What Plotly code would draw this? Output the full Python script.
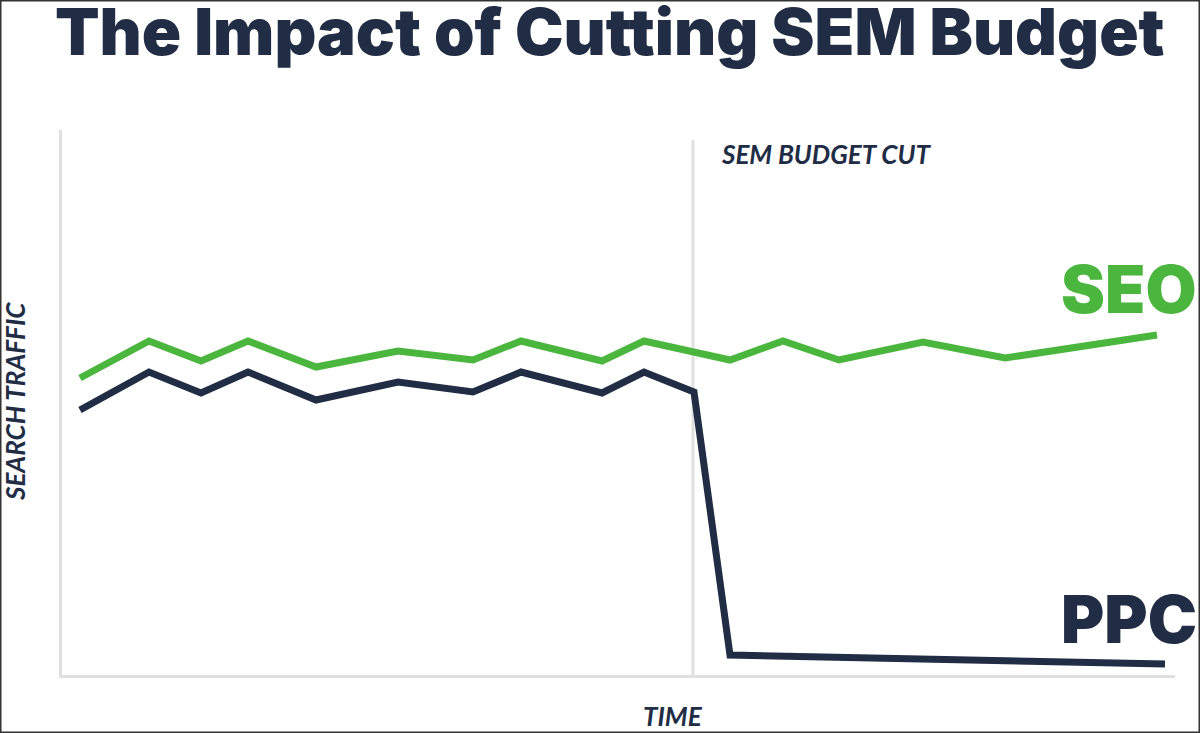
import plotly.graph_objects as go

# time axis in arbitrary units, traffic in arbitrary units
seo_time = [1.8, 8.7, 13.9, 18.6, 25.4, 33.6, 41.1, 45.9, 54.0, 58.2,
            66.8, 72.1, 77.7, 86.1, 94.3, 109.5]
seo_traffic = [29.7, 33.4, 31.4, 33.4, 30.8, 32.4, 31.5, 33.4, 31.4, 33.4,
               31.5, 33.4, 31.5, 33.3, 31.7, 34.0]

ppc_time = [1.8, 8.7, 13.9, 18.6, 25.4, 33.6, 41.1, 45.9, 54.0, 58.2,
            63.2, 66.8, 110.3]
ppc_traffic = [26.5, 30.3, 28.2, 30.3, 27.5, 29.3, 28.3, 30.3, 28.2, 30.3,
               28.3, 2.0, 1.1]

budget_cut = 63.1

navy = '#212c45'
green = '#4ab63d'
grid = '#e0e0e0'

W, H = 1200, 733

fig = go.Figure()

fig.add_trace(go.Scatter(x=seo_time, y=seo_traffic, mode='lines', name='SEO',
                         line=dict(color=green, width=7), cliponaxis=False))
fig.add_trace(go.Scatter(x=ppc_time, y=ppc_traffic, mode='lines', name='PPC',
                         line=dict(color=navy, width=7), cliponaxis=False))

# vertical marker for the budget cut
fig.add_shape(type='line', xref='x', yref='y', x0=budget_cut, x1=budget_cut,
              y0=-0.5, y1=53.5, line=dict(color=grid, width=3), layer='below')

# thin border round the picture
fig.add_shape(type='rect', xref='paper', yref='paper', x0=0, y0=0, x1=1, y1=1,
              line=dict(color='#333333', width=3))

heavy = 'Inter'
title_font = dict(family=heavy, size=65, color=navy, weight=900)
fig.add_annotation(text='The Impact of Cutting SEM Budget', xref='paper', yref='paper',
                   x=610 / W, y=1 - 31 / H, xanchor='center', yanchor='middle',
                   showarrow=False, font=title_font)

big_font = dict(family=heavy, size=66, color=green, weight=900)
fig.add_annotation(text='SEO', xref='paper', yref='paper', x=1199 / W, y=1 - 289 / H,
                   xanchor='right', yanchor='middle', showarrow=False, font=big_font)
fig.add_annotation(text='PPC', xref='paper', yref='paper', x=1199 / W, y=1 - 619 / H,
                   xanchor='right', yanchor='middle', showarrow=False,
                   font=dict(big_font, color=navy))

small_font = dict(family='Lato', size=26, color=navy, weight=700, style='italic')
fig.add_annotation(text='SEM BUDGET CUT', xref='paper', yref='paper', x=719 / W, y=1 - 154 / H,
                   xanchor='left', yanchor='middle', showarrow=False, font=small_font)
fig.add_annotation(text='TIME', xref='paper', yref='paper', x=673 / W, y=1 - 716 / H,
                   xanchor='center', yanchor='middle', showarrow=False, font=small_font)
fig.add_annotation(text='SEARCH TRAFFIC', xref='paper', yref='paper', x=15 / W, y=1 - 402 / H,
                   xanchor='center', yanchor='middle', textangle=-90, showarrow=False,
                   font=small_font)

fig.update_layout(
    width=W, height=H,
    margin=dict(l=0, r=0, t=0, b=0),
    paper_bgcolor='white', plot_bgcolor='white',
    showlegend=False,
    xaxis=dict(domain=[62 / W, 1175 / W], range=[0, 111.3], showgrid=False, zeroline=False,
               showticklabels=False, ticks='', showline=True, linecolor=grid, linewidth=3),
    yaxis=dict(domain=[1 - 675 / H, 1 - 130 / H], range=[0, 54.5], showgrid=False, zeroline=False,
               showticklabels=False, ticks='', showline=True, linecolor=grid, linewidth=3),
)

fig.write_html("out.html", config={'displayModeBar': False},
               post_script="document.body.style.margin='0';")
